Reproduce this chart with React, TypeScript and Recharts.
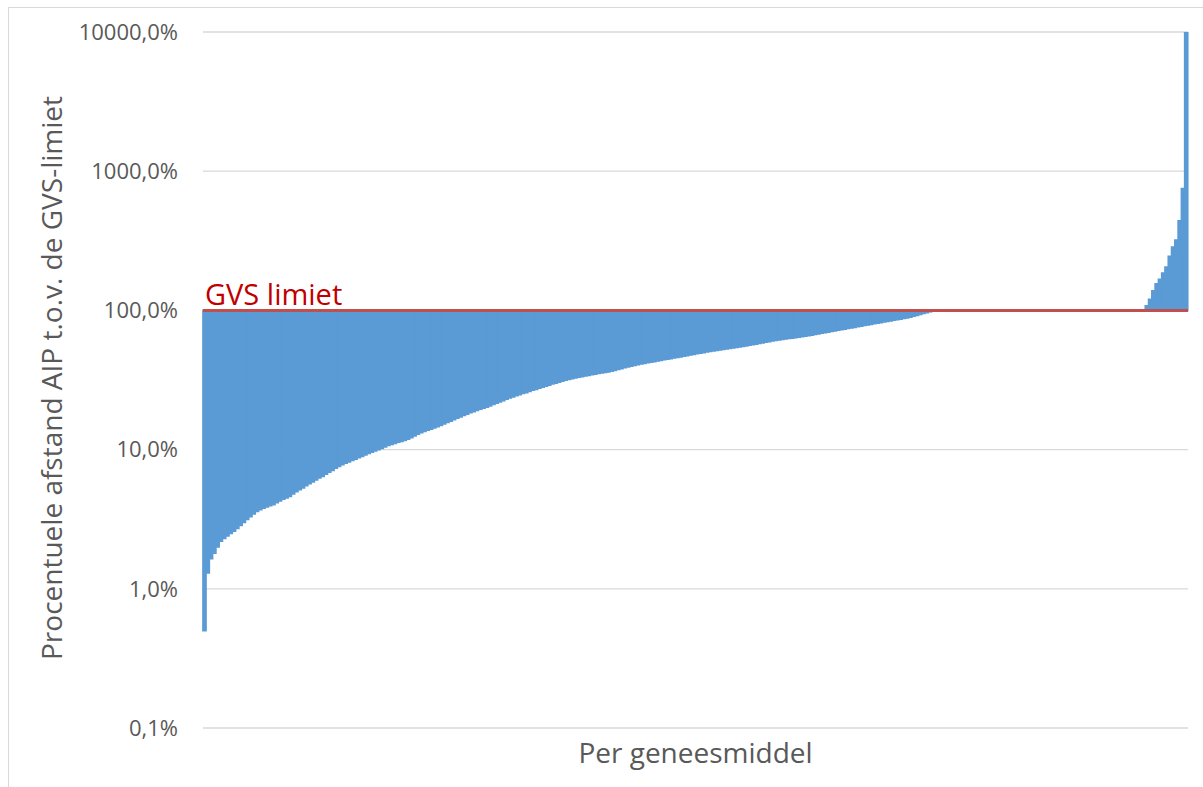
import React from 'react';
import { BarChart, Bar, XAxis, YAxis, CartesianGrid, ReferenceLine } from 'recharts';

// Percentage distance of AIP relative to the GVS limit, one value per medicine (sorted)
const pctValues: number[] = [
  0.5, 1.3, 1.65, 1.8, 2.0, 2.2, 2.3, 2.4, 2.5, 2.6,
  2.72, 2.85, 3.0, 3.15, 3.3, 3.45, 3.6, 3.7, 3.8, 3.87,
  3.95, 4.02, 4.15, 4.28, 4.4, 4.5, 4.62, 4.8, 4.98, 5.15,
  5.3, 5.5, 5.7, 5.85, 6.05, 6.25, 6.42, 6.65, 6.9, 7.1,
  7.35, 7.58, 7.8, 7.98, 8.15, 8.35, 8.55, 8.75, 8.95, 9.15,
  9.4, 9.6, 9.8, 10.0, 10.2, 10.45, 10.7, 10.9, 11.1, 11.3,
  11.45, 11.65, 11.9, 12.2, 12.55, 12.9, 13.25, 13.5, 13.8, 14.05,
  14.3, 14.6, 14.9, 15.3, 15.65, 16.0, 16.4, 16.8, 17.2, 17.6,
  18.0, 18.4, 18.7, 19.1, 19.5, 19.85, 20.2, 20.6, 21.1, 21.6,
  22.0, 22.5, 23.0, 23.5, 23.9, 24.4, 24.8, 25.3, 25.7, 26.2,
  26.7, 27.1, 27.6, 28.1, 28.6, 29.1, 29.6, 30.0, 30.5, 31.0,
  31.5, 31.9, 32.4, 32.8, 33.1, 33.4, 33.8, 34.1, 34.5, 34.8,
  35.2, 35.5, 35.9, 36.2, 36.6, 37.1, 37.7, 38.2, 38.8, 39.3,
  39.8, 40.3, 40.8, 41.3, 41.7, 42.1, 42.5, 42.9, 43.3, 43.8,
  44.2, 44.7, 45.1, 45.5, 46.0, 46.4, 46.9, 47.4, 47.8, 48.3,
  48.8, 49.3, 49.8, 50.3, 50.8, 51.2, 51.6, 52.0, 52.5, 52.9,
  53.3, 53.8, 54.2, 54.6, 55.1, 55.6, 56.2, 56.7, 57.3, 57.9,
  58.5, 59.1, 59.7, 60.3, 60.8, 61.3, 61.8, 62.3, 62.8, 63.3,
  63.8, 64.3, 64.8, 65.3, 65.8, 66.4, 67.1, 67.8, 68.5, 69.2,
  69.9, 70.6, 71.3, 72.0, 72.7, 73.4, 74.1, 74.9, 75.6, 76.4,
  77.1, 77.9, 78.6, 79.4, 80.2, 81.0, 81.8, 82.6, 83.4, 84.2,
  85.0, 85.8, 86.7, 87.6, 88.5, 89.5, 90.8, 92.2, 93.6, 95.0,
  96.4, 97.8, 99.2, 100.4, 100.4, 100.3, 100.3, 100.3, 100.2, 100.2,
  100.2, 100.2, 100.1, 100.1, 100.1, 100.1, 100, 100, 100, 100,
  100, 100, 100, 100, 100, 100, 100, 100, 100, 100,
  100, 100, 100, 100, 100, 100, 100, 100, 100, 100,
  100, 100, 100, 100, 100, 100, 100, 100, 100, 100,
  100, 100, 100, 100, 100, 100, 100, 100, 100, 100,
  100, 100, 100, 100, 100, 100, 100, 108, 120, 138,
  155, 167, 185, 205, 245, 285, 320, 440, 750, 10000,
];

const yTicks: number[] = [0.1, 1, 10, 100, 1000, 10000];
const yDomain: [number, number] = [0.1, 10000];
const gvsLimit = 100;

const yAxisTitle = 'Procentuele afstand AIP t.o.v. de GVS-limiet';
const xAxisTitle = 'Per geneesmiddel';
const limitLabel = 'GVS limiet';

const data = pctValues.map((v, i) => ({
  id: i + 1,
  range: v < gvsLimit ? [v, gvsLimit] : [gvsLimit, v],
}));

const fmt = (v: number) => v.toFixed(1).replace('.', ',') + '%';
const FONT = '"Open Sans", "Noto Sans", sans-serif';

const YTitle = (props: any) => {
  const vb = props.viewBox || { x: 83, y: 32, width: 120, height: 696 };
  const cx = vb.x - 32;
  const cy = vb.y + vb.height / 2 - 2;
  return (
    <text
      x={cx}
      y={cy}
      transform={`rotate(-90 ${cx} ${cy})`}
      textAnchor="middle"
      dominantBaseline="central"
      fill="#595959"
      fontSize={28}
      fontFamily={FONT}
    >
      {yAxisTitle}
    </text>
  );
};

const XTitle = (props: any) => {
  const vb = props.viewBox || { x: 203, y: 728, width: 985, height: 59 };
  return (
    <text
      x={vb.x + vb.width / 2}
      y={vb.y + 24}
      textAnchor="middle"
      dominantBaseline="central"
      fill="#595959"
      fontSize={28}
      fontFamily={FONT}
    >
      {xAxisTitle}
    </text>
  );
};

const LimitLabel = (props: any) => {
  const vb = props.viewBox || { x: 203, y: 311 };
  return (
    <text x={vb.x + 2} y={vb.y - 5} fill="#C00000" fontSize={29} fontFamily={FONT}>
      {limitLabel}
    </text>
  );
};

export default function App() {
  return (
    <div
      style={{
        position: 'absolute',
        left: 0,
        top: 0,
        width: 1203,
        height: 787,
        overflow: 'hidden',
        background: '#ffffff',
      }}
    >
      <div
        style={{
          position: 'absolute',
          left: 8,
          top: 7,
          width: 1220,
          height: 820,
          border: '1px solid #D9D9D9',
        }}
      />
      <div style={{ position: 'absolute', left: 0, top: 0 }}>
        <BarChart
          width={1203}
          height={787}
          data={data}
          margin={{ top: 32, right: 15, bottom: 0, left: 83 }}
          barCategoryGap={0}
          barGap={0}
        >
          <CartesianGrid vertical={false} stroke="#D9D9D9" strokeWidth={1.3} />
          <XAxis
            dataKey="id"
            type="category"
            height={59}
            tick={false}
            axisLine={false}
            tickLine={false}
            label={{ content: (p: any) => <XTitle {...p} /> }}
          />
          <YAxis
            type="number"
            scale="log"
            domain={yDomain}
            ticks={yTicks}
            allowDataOverflow
            width={120}
            axisLine={false}
            tickLine={false}
            tickSize={0}
            tickMargin={25}
            tick={{ fill: '#595959', fontSize: 22, fontFamily: FONT }}
            tickFormatter={fmt}
            label={{ content: (p: any) => <YTitle {...p} /> }}
          />
          <Bar
            dataKey="range"
            fill="#5B9BD5"
            stroke="#5B9BD5"
            strokeWidth={1.7}
            isAnimationActive={false}
          />
          <ReferenceLine
            y={gvsLimit}
            stroke="#C0504D"
            strokeWidth={3}
            label={{ content: (p: any) => <LimitLabel {...p} /> }}
          />
        </BarChart>
      </div>
    </div>
  );
}
